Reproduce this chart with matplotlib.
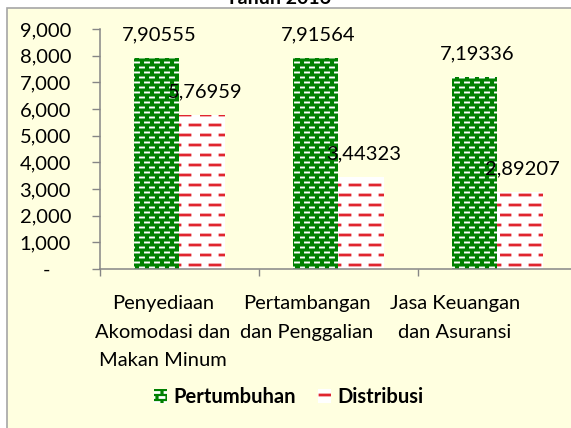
import numpy as np
import matplotlib
matplotlib.use("Agg")
from matplotlib import pyplot as plt
import matplotlib.hatch as mhatch
from matplotlib.path import Path
from matplotlib.patches import Rectangle
from functools import partial

# data (comma = decimal separator in the original)
categories = ["Penyediaan\nAkomodasi dan\nMakan Minum",
              "Pertambangan\ndan Penggalian",
              "Jasa Keuangan\ndan Asuransi"]
pertumbuhan = [7.90555, 7.91564, 7.19336]
distribusi = [5.76959, 3.44323, 2.89207]
yticks = [0, 1, 2, 3, 4, 5, 6, 7, 8, 9]
title = "Tahun 2016"


# Excel-like pattern fills: rows of short staggered dashes
class StaggeredDashes(mhatch.HatchPatternBase):
    def __init__(self, hatch, density, char, ncol, nrow, length):
        self.ncol, self.nrow, self.length = ncol, nrow, length
        self.num_vertices = 2 * nrow * (ncol + 1) if char in hatch else 0

    def set_vertices_and_codes(self, vertices, codes):
        i = 0
        for j in range(self.nrow):
            y = (j + 0.5) / self.nrow
            shift = 0.5 / self.ncol if j % 2 else 0.0
            for k in range(-1, self.ncol):
                x0 = k / self.ncol + shift
                vertices[i] = (x0, y)
                vertices[i + 1] = (x0 + self.length, y)
                codes[i] = Path.MOVETO
                codes[i + 1] = Path.LINETO
                i += 2


mhatch._hatch_types[:] = [
    partial(StaggeredDashes, char='.', ncol=10, nrow=20, length=0.04),
    partial(StaggeredDashes, char='-', ncol=5, nrow=10, length=0.1),
]

plt.rcParams['font.family'] = ['Lato', 'DejaVu Sans']

W, H = 571, 428
fig = plt.figure(figsize=(W / 100, H / 100), dpi=100)
fig.patch.set_facecolor('white')

# yellow chart area with grey frame (cropped on right / bottom)
bg = Rectangle((7 / W, -0.05), 1.0, 1.05 - 8 / H, transform=fig.transFigure,
               facecolor='#FFFFE0', edgecolor='#A6A6A6', lw=1.2, zorder=-1)
fig.patches.append(bg)
fig.text(278 / W, 1 - 4 / H, title, ha='center', va='baseline',
         fontsize=14, fontweight='bold')

ax = fig.add_axes([100 / W, 1 - 269 / H, 477 / W, 240 / H])
ax.set_facecolor('none')

x = np.arange(len(categories))
w = 0.286
plt.rcParams['hatch.linewidth'] = 1.4
b1 = ax.bar(x - w / 2, pertumbuhan, w, color='#008000', edgecolor='white',
            linewidth=0, hatch='.', label='Pertumbuhan')
plt.rcParams['hatch.linewidth'] = 2.0
b2 = ax.bar(x + w / 2, distribusi, w, color='white', edgecolor='#E0252F',
            linewidth=0, hatch='-', label='Distribusi')

for bars, vals in [(b1, pertumbuhan), (b2, distribusi)]:
    for bar, v in zip(bars, vals):
        ax.annotate(f"{v:.5f}".replace('.', ','),
                    (bar.get_x() + bar.get_width() / 2, bar.get_height()),
                    xytext=(2.5, 18), textcoords='offset pixels',
                    ha='center', va='baseline', fontsize=14.5)

ax.set_xlim(-0.5, 2.5)
ax.set_ylim(0, 9)

ylabels = ["-    " if t == 0 else f"{t:.3f}".replace('.', ',') for t in yticks]
ax.set_yticks(yticks, labels=ylabels)
ax.tick_params(axis='y', direction='out', length=5.8, width=1, color='#868686',
               pad=15, labelsize=14.5)

# category boundaries get the tick marks, labels sit under each group
ax.set_xticks([-0.5, 0.5, 1.5, 2.5], minor=True)
ax.set_xticks([-0.104, 0.802, 1.733], labels=categories)
ax.tick_params(axis='x', which='minor', direction='out', length=5, width=1,
               color='#868686')
ax.tick_params(axis='x', which='major', length=0, pad=19, labelsize=14.5)
for lab in ax.get_xticklabels():
    lab.set_linespacing(1.8)

for s in ['top', 'right']:
    ax.spines[s].set_visible(False)
for s in ['left', 'bottom']:
    ax.spines[s].set_color('#868686')
    ax.spines[s].set_linewidth(1.1)

fig.legend(handles=[b1, b2], loc='center', bbox_to_anchor=(288.5 / W, 1 - 397 / H),
           ncol=2, frameon=False, handlelength=0.65, handleheight=0.65,
           handletextpad=0.3, columnspacing=1.1,
           prop={'size': 14.5, 'weight': 'bold'})

fig.savefig("out.png", dpi=100)
